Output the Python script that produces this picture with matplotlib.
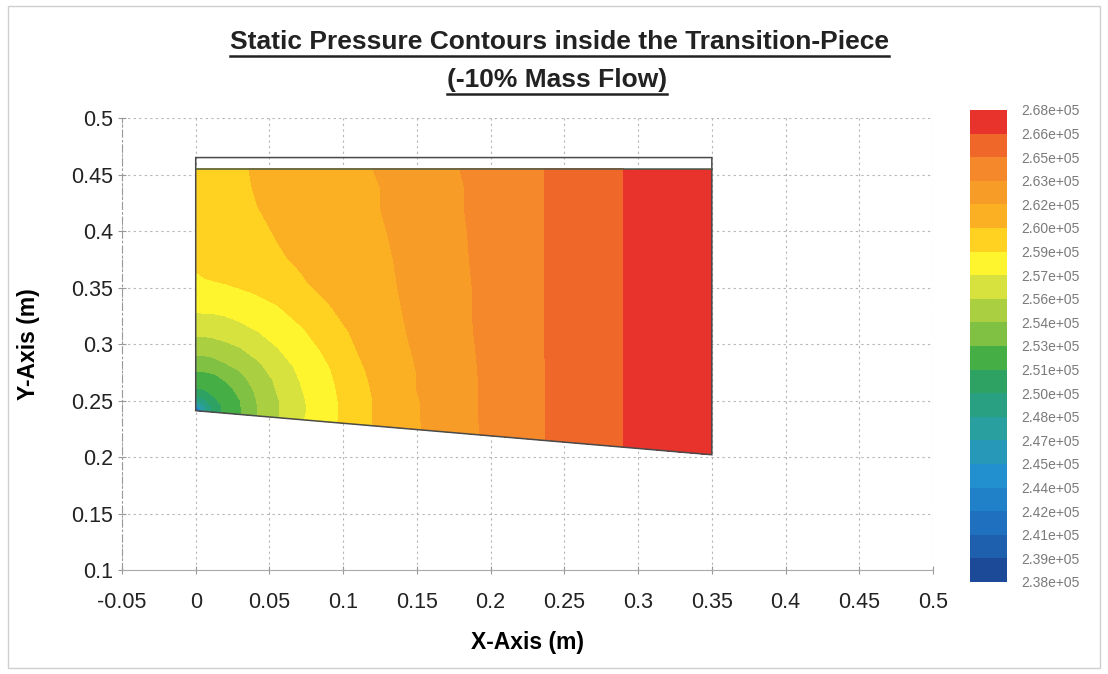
import numpy as np
import matplotlib
matplotlib.use("Agg")
import matplotlib.pyplot as plt
from matplotlib.colors import ListedColormap, BoundaryNorm
from matplotlib.lines import Line2D
from matplotlib.patches import Rectangle, Polygon

plt.rcParams["font.family"] = ["Liberation Sans", "DejaVu Sans"]

# Transition-piece outline (m)
x_edges = [0.0, 0.35]
y_bottom = [0.241, 0.202]
y_flow_top = 0.455
y_wall_top = 0.465

# Sample stations: x (m) and fraction of local height from bottom wall to top
grid_x = [0, 0.006, 0.012, 0.02, 0.03, 0.042, 0.056, 0.072, 0.09, 0.11,
          0.13, 0.15, 0.175, 0.2, 0.24, 0.29, 0.35]
grid_eta = [0, 0.03, 0.06, 0.1, 0.15, 0.21, 0.28, 0.36, 0.45, 0.55, 0.65, 0.75, 0.85, 0.93, 1.0]

pressure_kpa = [
    [238.0, 247.6, 250.4, 251.9, 252.9, 254.5, 255.9, 257.4, 258.6, 259.9, 261.1, 261.9, 262.8, 263.8, 265.1, 266.5, 268.0],
    [247.4, 248.8, 250.6, 251.9, 252.9, 254.5, 255.9, 257.3, 258.5, 259.9, 261.1, 261.9, 262.8, 263.8, 265.1, 266.5, 268.0],
    [250.1, 250.4, 251.4, 252.1, 253.0, 254.6, 255.9, 257.3, 258.5, 259.9, 261.1, 261.9, 262.9, 263.8, 265.1, 266.5, 268.0],
    [251.8, 251.8, 252.0, 252.5, 253.4, 254.8, 256.1, 257.4, 258.6, 259.9, 261.1, 261.9, 262.9, 263.8, 265.1, 266.5, 268.0],
    [252.7, 252.7, 252.8, 253.3, 254.1, 255.2, 256.3, 257.6, 258.7, 260.0, 261.2, 262.0, 262.9, 263.8, 265.1, 266.5, 268.0],
    [254.1, 254.1, 254.2, 254.6, 255.0, 255.8, 256.8, 257.9, 258.9, 260.2, 261.3, 262.0, 262.9, 263.8, 265.1, 266.5, 268.0],
    [255.5, 255.5, 255.6, 255.8, 256.1, 256.7, 257.5, 258.3, 259.3, 260.5, 261.4, 262.1, 263.0, 263.8, 265.1, 266.5, 268.0],
    [256.9, 256.9, 256.9, 257.0, 257.3, 257.7, 258.2, 258.9, 259.8, 260.8, 261.6, 262.2, 263.0, 263.9, 265.1, 266.5, 268.0],
    [258.1, 258.1, 258.1, 258.2, 258.3, 258.6, 259.0, 259.7, 260.4, 261.1, 261.7, 262.3, 263.1, 263.9, 265.1, 266.5, 268.0],
    [258.9, 259.0, 259.1, 259.2, 259.4, 259.6, 260.0, 260.4, 260.9, 261.3, 261.8, 262.4, 263.1, 263.9, 265.1, 266.5, 267.9],
    [259.3, 259.4, 259.5, 259.7, 259.9, 260.2, 260.4, 260.7, 261.1, 261.5, 261.9, 262.4, 263.2, 263.9, 265.1, 266.5, 267.9],
    [259.4, 259.6, 259.7, 259.9, 260.1, 260.3, 260.6, 260.9, 261.2, 261.6, 262.0, 262.5, 263.2, 264.0, 265.1, 266.5, 267.9],
    [259.5, 259.7, 259.8, 260.0, 260.2, 260.5, 260.7, 261.0, 261.3, 261.7, 262.1, 262.6, 263.3, 264.0, 265.1, 266.5, 267.9],
    [259.6, 259.8, 259.9, 260.1, 260.3, 260.6, 260.8, 261.1, 261.4, 261.7, 262.1, 262.7, 263.3, 264.0, 265.1, 266.5, 267.9],
    [259.7, 259.8, 260.0, 260.2, 260.4, 260.6, 260.9, 261.1, 261.5, 261.8, 262.2, 262.7, 263.4, 264.0, 265.1, 266.5, 267.9],
]

# Colour legend: 21 boundaries (Pa), 20 bands from low to high
levels = [238000, 239500, 241000, 242500, 244000, 245500, 247000, 248500, 250000, 251500,
          253000, 254500, 256000, 257500, 259000, 260500, 262000, 263500, 265000, 266500, 268000]
tick_text = ["2.38e+05", "2.39e+05", "2.41e+05", "2.42e+05", "2.44e+05", "2.45e+05",
             "2.47e+05", "2.48e+05", "2.50e+05", "2.51e+05", "2.53e+05", "2.54e+05",
             "2.56e+05", "2.57e+05", "2.59e+05", "2.60e+05", "2.62e+05", "2.63e+05",
             "2.65e+05", "2.66e+05", "2.68e+05"]
band_colors = ["#1d4a98", "#1e60ae", "#1f71bf", "#2081c8", "#228fce", "#2898b8",
               "#2a9fa0", "#2aa082", "#2ea262", "#45ae44", "#80c042", "#aad041",
               "#d8e23e", "#fff52e", "#ffd221", "#fbb024", "#f89c28", "#f5882a",
               "#ef6829", "#e8322c"]

xt = [-0.05, 0, 0.05, 0.1, 0.15, 0.2, 0.25, 0.3, 0.35, 0.4, 0.45, 0.5]
xt_text = ["-0.05", "0", "0.05", "0.1", "0.15", "0.2", "0.25", "0.3", "0.35", "0.4", "0.45", "0.5"]
yt = [0.1, 0.15, 0.2, 0.25, 0.3, 0.35, 0.4, 0.45, 0.5]
yt_text = ["0.1", "0.15", "0.2", "0.25", "0.3", "0.35", "0.4", "0.45", "0.5"]

# map (x, eta) samples onto the trapezoidal passage
gx, ge = np.meshgrid(grid_x, grid_eta)
yb = np.interp(gx, x_edges, y_bottom)
gy = yb + ge * (y_flow_top - yb)
p = np.array(pressure_kpa) * 1000.0

fig = plt.figure(figsize=(11.08, 6.74), dpi=100)
fig.add_artist(Rectangle((8 / 1108, 6 / 674), 1092 / 1108, 662 / 674, transform=fig.transFigure,
                         fill=False, edgecolor="#cfcfcf", lw=1))
ax = fig.add_axes([0.1101, 0.1543, 0.7320, 0.6706])

cmap = ListedColormap(band_colors)
norm = BoundaryNorm(levels, cmap.N)
cs = ax.contourf(gx, gy, p, levels=levels, cmap=cmap, norm=norm)

# walls
ax.add_patch(Polygon([(x_edges[0], y_bottom[0]), (x_edges[1], y_bottom[1]),
                      (x_edges[1], y_wall_top), (x_edges[0], y_wall_top)],
                     closed=True, fill=False, edgecolor="#4a4a4a", lw=1.1, zorder=3))
ax.plot(x_edges, [y_flow_top, y_flow_top], color="#4a5a4a", lw=1.1, zorder=3)

ax.set_xlim(-0.05, 0.5)
ax.set_ylim(0.1, 0.5)
ax.set_xticks(xt)
ax.set_yticks(yt)
ax.set_xticklabels(xt_text)
ax.set_yticklabels(yt_text)
ax.tick_params(labelsize=15.5, labelcolor="#222222", color="#999999", length=6,
               direction="inout", width=0.8)
ax.tick_params(axis="x", pad=13)
ax.grid(True, color="#b5b5b5", linestyle=(0, (2, 3)), lw=0.8)
ax.set_axisbelow(True)
for s in ["top", "right"]:
    ax.spines[s].set_visible(False)
ax.spines["left"].set_color("#999999")
ax.spines["left"].set_linestyle((0, (6, 3, 1, 3)))
ax.spines["bottom"].set_color("#aaaaaa")
ax.set_xlabel("X-Axis (m)", fontsize=16.5, fontweight="bold")
ax.set_ylabel("Y-Axis (m)", fontsize=16.5, fontweight="bold")
ax.xaxis.set_label_coords(0.5, -0.135)
ax.yaxis.set_label_coords(-0.101, 0.5)

# colour legend
cax = fig.add_axes([0.8755, 0.1365, 0.0334, 0.7003])
cb = fig.colorbar(cs, cax=cax, ticks=levels)
cb.outline.set_visible(False)
cb.ax.set_yticklabels(tick_text)
cb.ax.tick_params(length=0, labelsize=10, labelcolor="#7a7a7a", pad=10)

# underlined two-line title
t1 = fig.text(0.505, 0.938, "Static Pressure Contours inside the Transition-Piece",
              ha="center", va="center", fontsize=19, fontweight="bold", color="#222222")
t2 = fig.text(0.503, 0.882, "(-10% Mass Flow)", ha="center", va="center",
              fontsize=19, fontweight="bold", color="#222222")
fig.canvas.draw()
r = fig.canvas.get_renderer()
for t in (t1, t2):
    bb = t.get_window_extent(r).transformed(fig.transFigure.inverted())
    fig.add_artist(Line2D([bb.x0, bb.x1], [bb.y0 - 0.004, bb.y0 - 0.004],
                          transform=fig.transFigure, color="#222222", lw=1.8))

fig.savefig("out.png", dpi=100)
